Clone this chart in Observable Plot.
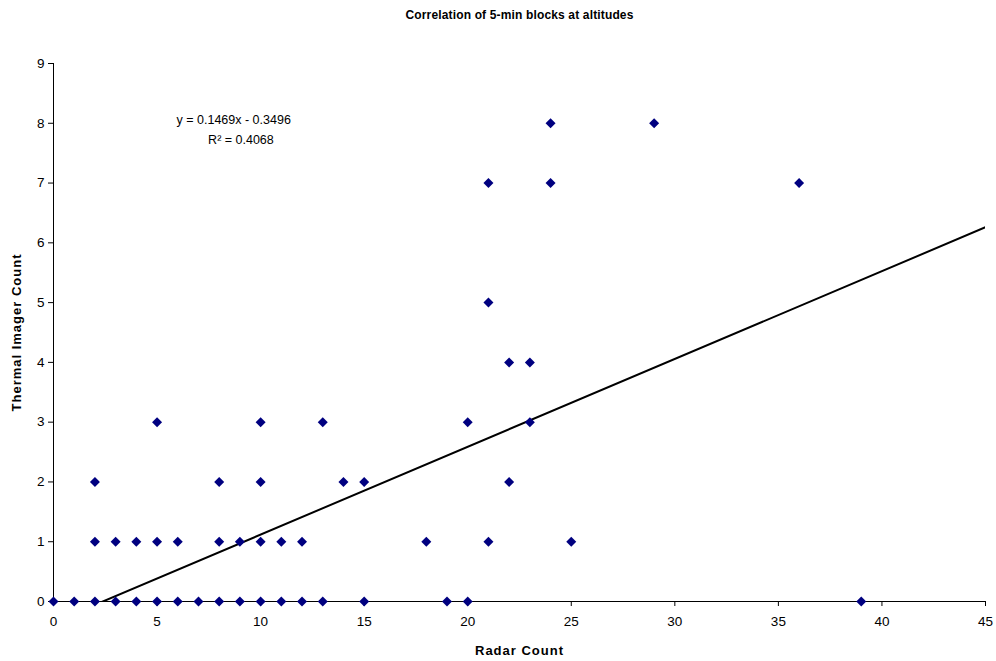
<!DOCTYPE html>
<html>
<head>
<meta charset="utf-8">
<script src="https://cdn.jsdelivr.net/npm/d3@7"></script>
<script src="https://cdn.jsdelivr.net/npm/@observablehq/plot@0.6"></script>
<style>
  html, body { margin: 0; padding: 0; background: #fff; }
</style>
</head>
<body>
<div id="chart"></div>
<script>
// Radar count (x) and thermal imager count (y) per 5-min block
const radarCount = [
  0,1,2,3,4,5,6,7,8,9,10,11,12,13,15,19,20,39,
  2,3,4,5,6,8,9,10,11,12,18,21,25,
  2,8,10,14,15,22,
  5,10,13,20,23,
  22,23,
  21,
  21,24,36,
  24,29
];
const thermalCount = [
  0,0,0,0,0,0,0,0,0,0,0,0,0,0,0,0,0,0,
  1,1,1,1,1,1,1,1,1,1,1,1,1,
  2,2,2,2,2,2,
  3,3,3,3,3,
  4,4,
  5,
  7,7,7,
  8,8
];
const trendSlope = 0.1469;
const trendIntercept = -0.3496;
const trendX = [0, 45];
const xTicks = [0,5,10,15,20,25,30,35,40,45];
const yTicks = [0,1,2,3,4,5,6,7,8,9];
const titleText = "Correlation of 5-min blocks at altitudes";
const xLabel = "Radar Count";
const yLabel = "Thermal Imager Count";
const eqText = "y = 0.1469x - 0.3496";
const r2Text = "R² = 0.4068";

const points = radarCount.map((x, i) => ({x, y: thermalCount[i]}));
const trend = trendX.map(x => ({x, y: trendSlope * x + trendIntercept}));

const chart = Plot.plot({
  width: 996,
  height: 661,
  marginTop: 63,
  marginBottom: 60,
  marginLeft: 53,
  marginRight: 11,
  style: {fontFamily: "'Liberation Sans', Arial, sans-serif", fontSize: "12px", color: "#000", background: "#fff"},
  x: {domain: [0, 45]},
  y: {domain: [0, 9]},
  marks: [
    Plot.axisX({ticks: xTicks, tickSize: 5, tickPadding: 10, label: null, stroke: "#000", fontSize: 13.5}),
    Plot.axisY({ticks: yTicks, tickSize: 5, tickPadding: 4, label: null, stroke: "#000", fontSize: 13.5}),
    Plot.ruleX([0], {stroke: "#000"}),
    Plot.ruleY([0], {stroke: "#000"}),
    Plot.line(trend, {x: "x", y: "y", stroke: "#000", strokeWidth: 2, clip: true}),
    Plot.dot(points, {x: "x", y: "y", symbol: "diamond2", r: 4.5, fill: "#000080", stroke: "none"}),
    Plot.text([eqText], {x: 8.7, y: 8.05, text: d => d, fontSize: 12.5, fill: "#000"}),
    Plot.text([r2Text], {x: 9.05, y: 7.72, text: d => d, fontSize: 12.5, fill: "#000"}),
    Plot.text([titleText], {frameAnchor: "top", dy: -48, lineAnchor: "middle", text: d => d, fontSize: 12, fontWeight: "bold", fill: "#000"}),
    Plot.text([xLabel], {frameAnchor: "bottom", dy: 49, lineAnchor: "middle", text: d => d, fontSize: 13, fontWeight: "bold", fill: "#000"}),
    Plot.text([yLabel], {frameAnchor: "left", dx: -37, rotate: -90, textAnchor: "middle", lineAnchor: "middle", text: d => d, fontSize: 13, fontWeight: "bold", fill: "#000"})
  ]
});
d3.select(chart).selectAll("text")
  .filter(function() { return this.textContent === xLabel || this.textContent === yLabel; })
  .attr("letter-spacing", "1");
d3.select(chart).selectAll("text")
  .filter(function() { return this.textContent === titleText; })
  .attr("letter-spacing", "0.15");
document.getElementById("chart").appendChild(chart);
</script>
</body>
</html>
